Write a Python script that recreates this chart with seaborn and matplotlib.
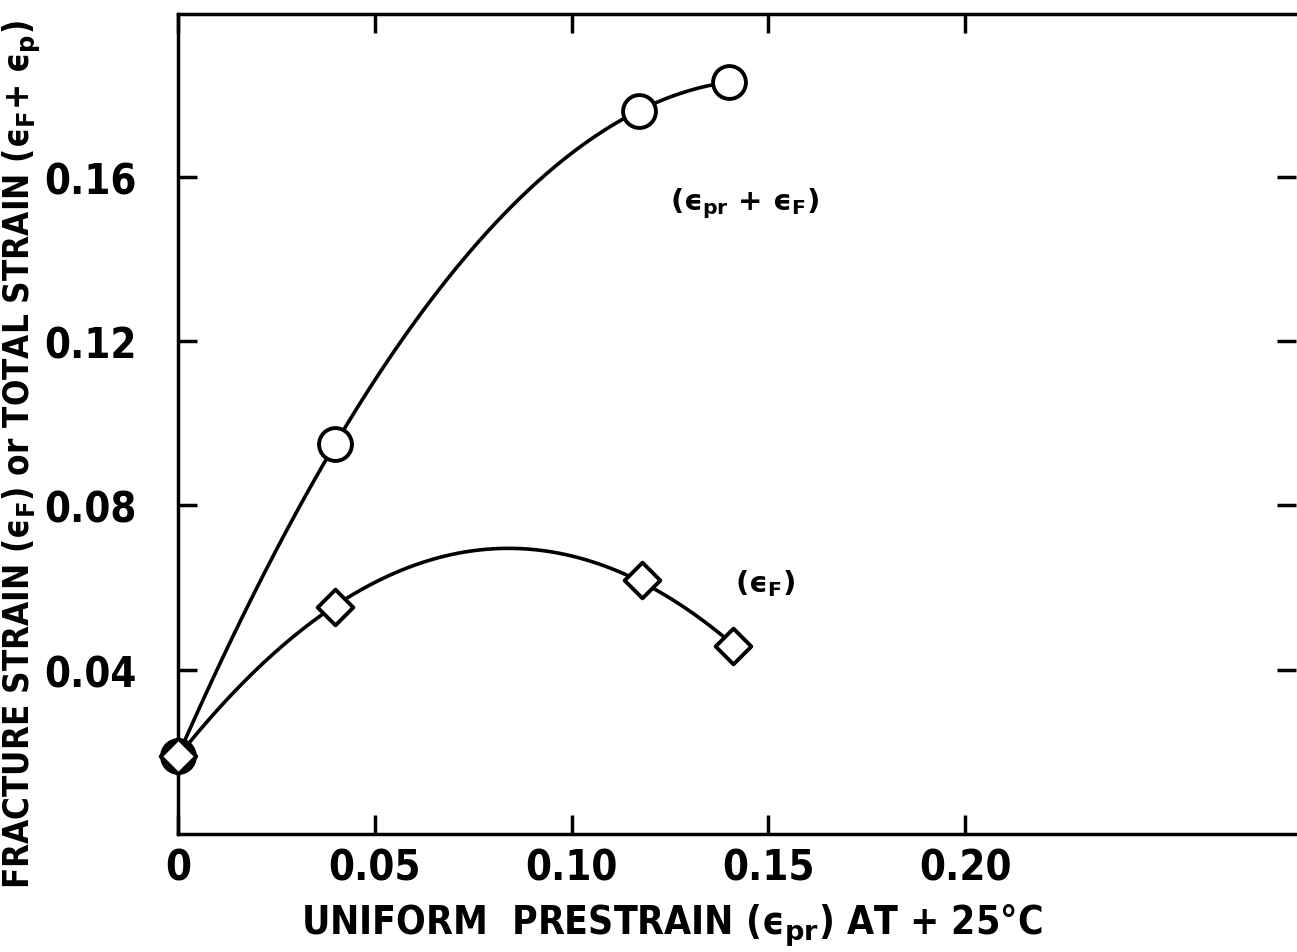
import numpy as np
import pandas as pd
import matplotlib
matplotlib.use("Agg")
import matplotlib.pyplot as plt
import seaborn as sns

# values
prestrain = [0.0, 0.040, 0.117, 0.140]
total_strain = [0.019, 0.095, 0.176, 0.183]      # (eps_pr + eps_F), circles
prestrain_f = [0.0, 0.040, 0.118, 0.141]
fracture_strain = [0.019, 0.0552, 0.0618, 0.0457]   # (eps_F), diamonds

x_ticks = [0, 0.05, 0.10, 0.15, 0.20]
x_tick_labels = ["0", "0.05", "0.10", "0.15", "0.20"]
y_ticks = [0.04, 0.08, 0.12, 0.16]
y_tick_labels = ["0.04", "0.08", "0.12", "0.16"]

df_total = pd.DataFrame({"x": prestrain, "y": total_strain})
df_frac = pd.DataFrame({"x": prestrain_f, "y": fracture_strain})

sns.set_style("ticks")
plt.rcParams["font.family"] = ["DejaVu Sans"]
plt.rcParams["font.weight"] = "bold"
plt.rcParams["axes.labelweight"] = "bold"
plt.rcParams["mathtext.fontset"] = "dejavusans"
plt.rcParams["text.color"] = "black"
plt.rcParams["axes.labelcolor"] = "black"

fig = plt.figure(figsize=(12.97, 9.53), dpi=100)
ax = fig.add_axes([0.1372, 0.1238, 0.862, 0.8602])

# smooth hand-drawn style curves through the points
sns.regplot(data=df_total, x="x", y="y", order=3, ci=None, scatter=False,
            truncate=True, color="black", line_kws={"lw": 2.6}, ax=ax)
sns.regplot(data=df_frac, x="x", y="y", order=2, ci=None, scatter=False,
            truncate=True, color="black", line_kws={"lw": 2.6}, ax=ax)

sns.scatterplot(data=df_total, x="x", y="y", marker="o", s=560,
                facecolor="white", edgecolor="black", linewidth=2.8,
                zorder=5, clip_on=False, ax=ax)
sns.scatterplot(data=df_frac, x="x", y="y", marker="D", s=330,
                facecolor="white", edgecolor="black", linewidth=2.8,
                zorder=6, clip_on=False, ax=ax)

ax.set_xlim(0, 0.284)
ax.set_ylim(0, 0.1995)
ax.set_xticks(x_ticks)
ax.set_xticklabels(x_tick_labels)
ax.set_yticks(y_ticks)
ax.set_yticklabels(y_tick_labels)
ax.set_xlabel("")
ax.set_ylabel("")

ax.tick_params(axis="both", direction="in", length=14, width=2.5,
               labelsize=30, top=True, right=True, colors="black")
ax.tick_params(axis="y", pad=30)
ax.tick_params(axis="x", pad=9)
for lbl in ax.get_xticklabels() + ax.get_yticklabels():
    lbl.set_fontstretch("condensed")
for side in ("left", "top", "bottom"):
    ax.spines[side].set_linewidth(2.5)
    ax.spines[side].set_color("black")
ax.spines["right"].set_visible(False)

fig.text(0.518, 0.029, "UNIFORM  PRESTRAIN (ϵ$_\\mathbf{pr}$) AT + 25°C",
         fontsize=28, fontstretch="condensed", ha="center", va="center")
fig.text(0.017, 0.523,
         "FRACTURE STRAIN (ϵ$_\\mathbf{F}$) or TOTAL STRAIN (ϵ$_\\mathbf{F}$+ ϵ$_\\mathbf{p}$)",
         fontsize=25, fontstretch="condensed", rotation=90,
         ha="center", va="center")

ax.text(0.125, 0.152, "(ϵ$_\\mathbf{pr}$ + ϵ$_\\mathbf{F}$)", fontsize=21)
ax.text(0.1415, 0.059, "(ϵ$_\\mathbf{F}$)", fontsize=21)

fig.savefig("out.png", dpi=100)
